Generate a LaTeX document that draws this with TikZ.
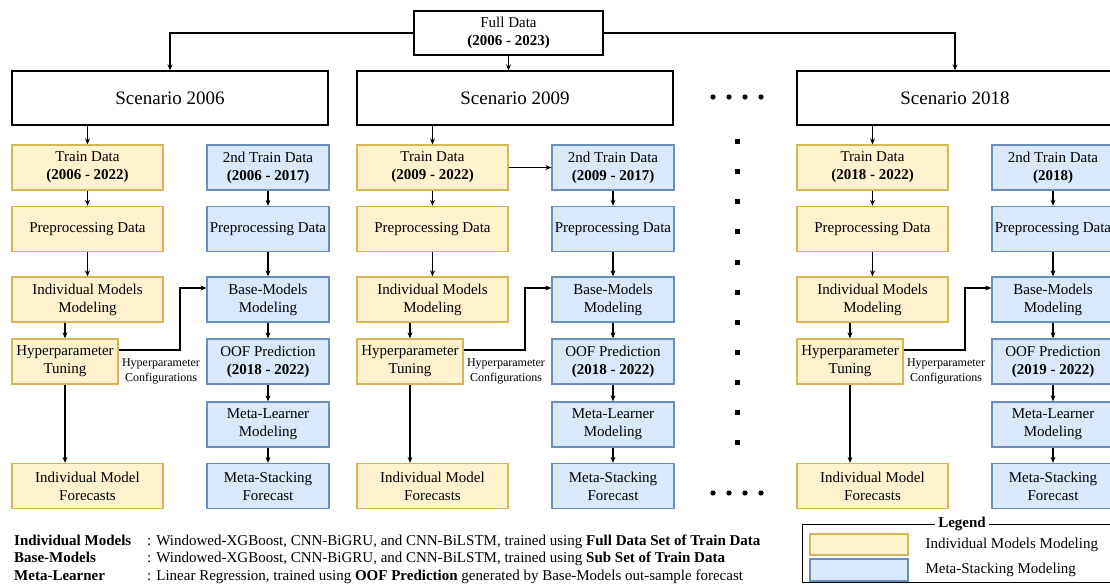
\documentclass[tikz,border=0pt]{standalone}
\usepackage{fontspec}
\IfFontExistsTF{LiberationSerif-Regular.ttf}
  {\setmainfont{LiberationSerif}[Extension=.ttf,UprightFont=*-Regular,BoldFont=*-Bold,ItalicFont=*-Italic,BoldItalicFont=*-BoldItalic]}
  {\setmainfont{Liberation Serif}}
\usetikzlibrary{arrows.meta}
\definecolor{ylwfill}{HTML}{FFF2CC}
\definecolor{ylwline}{HTML}{D6B656}
\definecolor{blufill}{HTML}{DAE8FC}
\definecolor{bluline}{HTML}{6C8EBF}

\begin{document}
\begin{tikzpicture}[x=1pt,y=-1pt,font=\fontsize{15}{18}\selectfont,>={Stealth[length=6pt,width=5pt]},
  ybox/.style={draw=ylwline,fill=ylwfill,line width=1.3pt,minimum width=151pt,minimum height=45pt,align=center,inner sep=1pt},
  bbox/.style={ybox,draw=bluline,fill=blufill,minimum width=122pt},
  sbox/.style={draw,line width=1.3pt,minimum width=316pt,minimum height=54pt,font=\fontsize{19}{22}\selectfont},
  flow/.style={->,line width=1.2pt}]
\useasboundingbox (0,0) rectangle (1110,585);
\node[draw,line width=1.3pt,minimum width=189pt,minimum height=44pt,align=center] (full) at (508.5,33) {Full Data\\\textbf{(2006 - 2023)}};
% scenario columns
\foreach \i/\X/\S/\tr/\st/\oof in {a/12/2006/2006 - 2022/2006 - 2017/2018 - 2022,b/357/2009/2009 - 2022/2009 - 2017/2018 - 2022,c/797/2018/2018 - 2022/2018/2019 - 2022}{
  \begin{scope}[xshift=\X]
  \node[sbox] (s\i) at (158,98) {Scenario \S};
  \node[ybox] (t\i) at (75.5,167.5) {Train Data\\\textbf{(\tr)}};
  \node[bbox] (u\i) at (256,167.5) {2nd Train Data\\\textbf{(\st)}};
  \node[ybox] (p\i) at (75.5,229) {Preprocessing Data};
  \node[bbox] (q\i) at (256,229) {Preprocessing Data};
  \node[ybox] (m\i) at (75.5,299.5) {Individual Models\\Modeling};
  \node[bbox] (b\i) at (256,299.5) {Base-Models\\Modeling};
  \node[ybox,minimum width=106pt] (h\i) at (53,361.5) {Hyperparameter\\Tuning};
  \node[bbox] (o\i) at (256,361.5) {OOF Prediction\\\textbf{(\oof)}};
  \node[bbox] (l\i) at (256,424.5) {Meta-Learner\\Modeling};
  \node[ybox] (f\i) at (75.5,486) {Individual Model\\Forecasts};
  \node[bbox] (g\i) at (256,486) {Meta-Stacking\\Forecast};
  \node[font=\fontsize{12}{14.5}\selectfont,align=center] (c\i) at (149,371.5) {Hyperparameter\\Configurations};
  \coordinate (k\i) at (168,288);
  \draw[flow] (s\i.south -| t\i.north) -- (t\i.north);
  \draw[flow] (t\i) -- (p\i); \draw[flow] (p\i) -- (m\i);
  \draw[flow] (m\i.south -| h\i.north) -- (h\i.north);
  \draw[flow] (h\i.south) -- (h\i.south |- f\i.north);
  \draw[flow] (u\i) -- (q\i); \draw[flow] (q\i) -- (b\i); \draw[flow] (b\i) -- (o\i);
  \draw[flow] (o\i) -- (l\i); \draw[flow] (l\i) -- (g\i);
  \draw[flow] ([yshift=11.5pt]h\i.east) -| (k\i) -- (k\i -| b\i.west);
  \end{scope}}
\draw[flow] (full.west) -| (sa.north);
\draw[flow] (full.east) -| (sc.north);
\draw[flow] (full.south) -- (full.south |- sb.north);
\draw[flow] (tb) -- (ub);
% dots between 2009 and 2018
\foreach \k in {0,...,10} \fill (734.5,{139.5+30*\k}) rectangle ++(5,5);
\foreach \x in {713,729,745,761} \fill (\x,97) circle (2.6pt) (\x,493) circle (2.6pt);
% notes
\node[anchor=base west,inner sep=0pt] (nim) at (14,545) {\textbf{Individual Models}};
\node[anchor=base west,inner sep=0pt] (dim) at (147,545) {: Windowed-XGBoost, CNN-BiGRU, and CNN-BiLSTM, trained using \textbf{Full Data Set of Train Data}};
\node[anchor=base west,inner sep=0pt] (nbm) at (14,562.5) {\textbf{Base-Models}};
\node[anchor=base west,inner sep=0pt] (dbm) at (147,562.5) {: Windowed-XGBoost, CNN-BiGRU, and CNN-BiLSTM, trained using \textbf{Sub Set of Train Data}};
\node[anchor=base west,inner sep=0pt] (nml) at (14,580) {\textbf{Meta-Learner}};
\node[anchor=base west,inner sep=0pt] (dml) at (147,580) {: Linear Regression, trained using \textbf{OOF Prediction} generated by Base-Models out-sample forecast};
% legend
\draw[line width=0.8pt] (1120,524) -- (802,524) -- (802,582) -- (1120,582);
\node[fill=white,inner sep=3pt,font=\fontsize{15}{18}\selectfont\bfseries] (lgd) at (962,524) {Legend};
\node[ybox,minimum width=98pt,minimum height=21pt] (lgy) at (859,544.5) {};
\node[bbox,minimum width=98pt,minimum height=22pt] (lgb) at (859,570) {};
\node[anchor=west] (lgyt) at (922,544.5) {Individual Models Modeling};
\node[anchor=west] (lgbt) at (922,570) {Meta-Stacking Modeling};
\end{tikzpicture}
\end{document}
